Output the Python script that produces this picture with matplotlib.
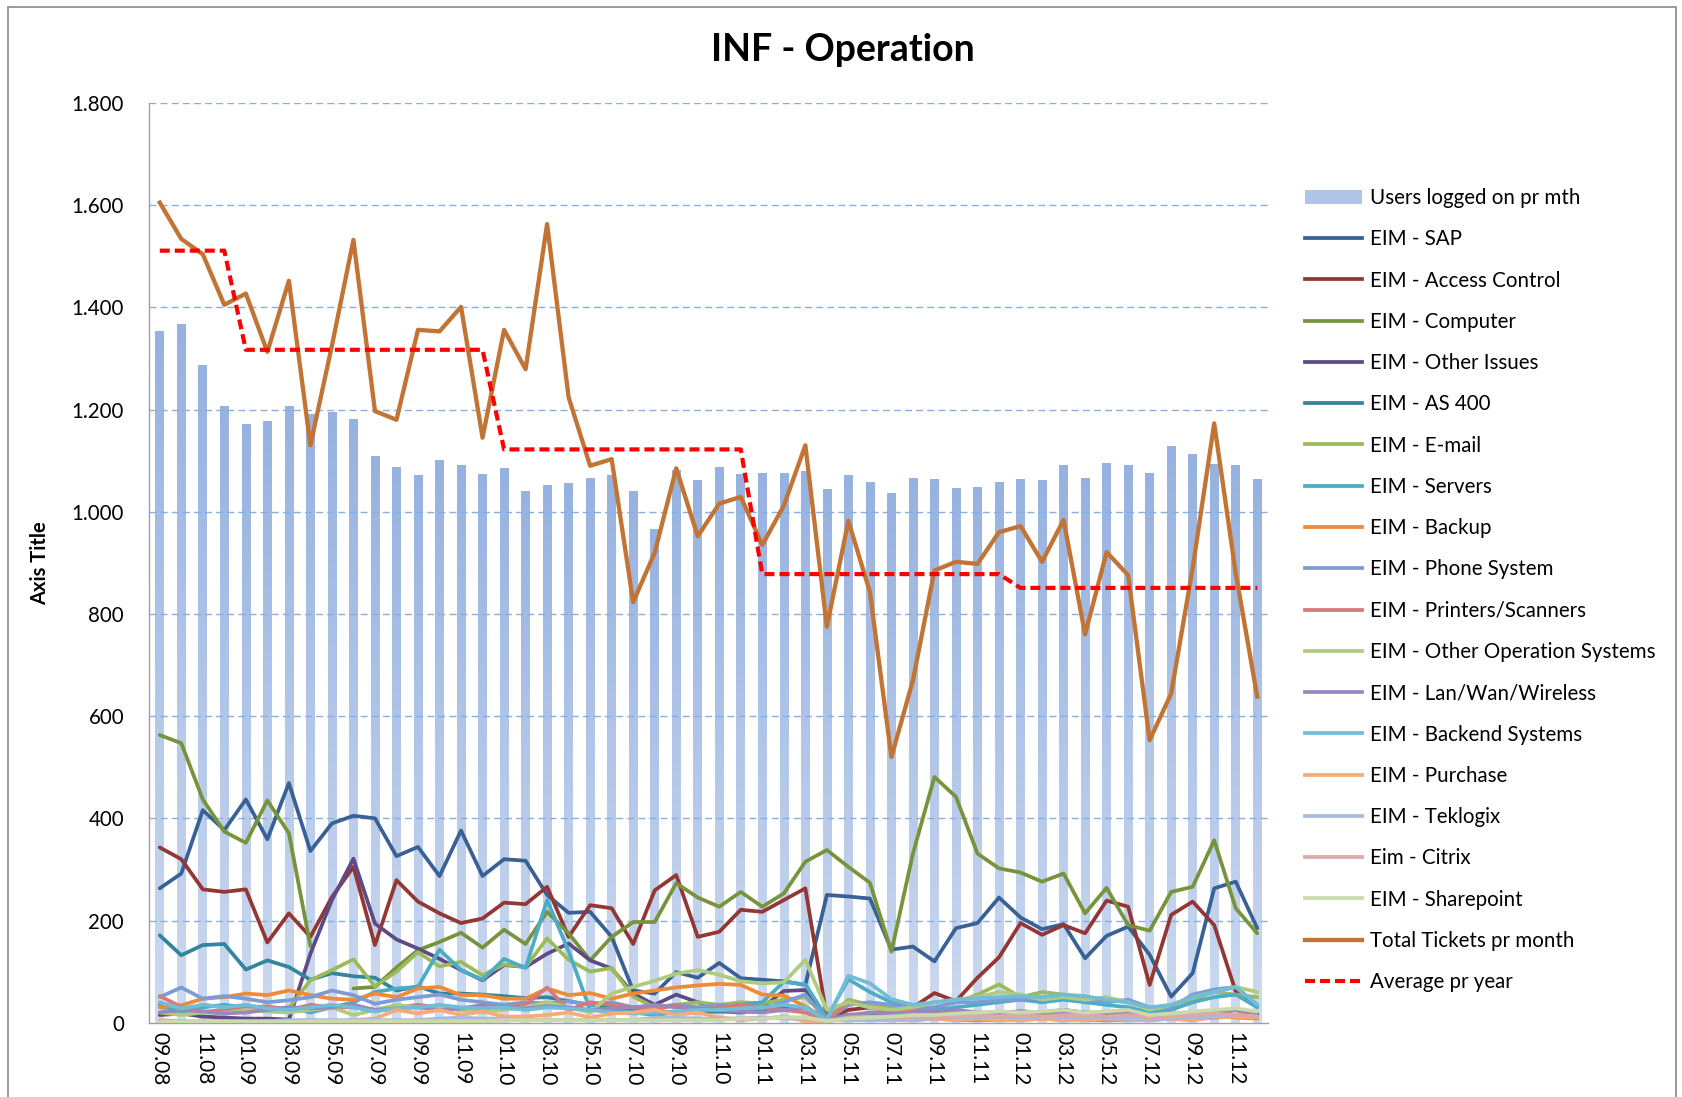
import numpy as np
import matplotlib
matplotlib.use('Agg')
import matplotlib.pyplot as plt
from matplotlib.patches import Patch, Rectangle
from matplotlib.lines import Line2D
from matplotlib.colors import LinearSegmentedColormap

plt.rcParams['font.family'] = ['Lato', 'DejaVu Sans']

nan = float('nan')

months = ["09.08", "10.08", "11.08", "12.08",
          "01.09", "02.09", "03.09", "04.09", "05.09", "06.09", "07.09", "08.09", "09.09", "10.09", "11.09", "12.09",
          "01.10", "02.10", "03.10", "04.10", "05.10", "06.10", "07.10", "08.10", "09.10", "10.10", "11.10", "12.10",
          "01.11", "02.11", "03.11", "04.11", "05.11", "06.11", "07.11", "08.11", "09.11", "10.11", "11.11", "12.11",
          "01.12", "02.12", "03.12", "04.12", "05.12", "06.12", "07.12", "08.12", "09.12", "10.12", "11.12", "12.12"]

users = [1353, 1368, 1287, 1207, 1171, 1178, 1207, 1190, 1194, 1181, 1108, 1087, 1072, 1100, 1091, 1074,
         1085, 1040, 1051, 1055, 1066, 1072, 1040, 965, 1082, 1062, 1087, 1074,
         1076, 1076, 1080, 1044, 1072, 1057, 1037, 1065, 1063, 1046, 1048, 1057,
         1063, 1061, 1091, 1065, 1096, 1091, 1076, 1128, 1113, 1094, 1091, 1063]

total = [1605, 1534, 1504, 1405, 1427, 1313, 1452, 1130, 1325, 1532, 1197, 1180, 1356, 1353, 1401, 1145,
         1356, 1279, 1563, 1224, 1090, 1103, 823, 920, 1085, 952, 1016, 1029,
         935, 1012, 1130, 775, 982, 843, 520, 670, 885, 902, 898, 960,
         972, 902, 984, 760, 921, 876, 553, 644, 890, 1173, 880, 638]

average = [1511, 1511, 1511, 1511,
           1317, 1317, 1317, 1317, 1317, 1317, 1317, 1317, 1317, 1317, 1317, 1317,
           1122, 1122, 1122, 1122, 1122, 1122, 1122, 1122, 1122, 1122, 1122, 1122,
           878, 878, 878, 878, 878, 878, 878, 878, 878, 878, 878, 878,
           851, 851, 851, 851, 851, 851, 851, 851, 851, 851, 851, 851]

sap = [263, 292, 416, 377, 437, 359, 469, 336, 390, 405, 400, 326, 344,
       287, 376, 287, 320, 317, 250, 215, 217, 168, 63, 57, 99, 88,
       117, 87, 84, 81, 74, 250, 247, 243, 143, 149, 120, 185, 195, 245,
       206, 183, 193, 126, 170, 188, 133, 51, 97, 263, 276, 185]

access = [343, 320, 261, 256, 261, 157, 214, 168, 246, 305, 152, 279, 237,
          214, 195, 204, 235, 232, 266, 168, 230, 224, 154, 259, 289, 168,
          178, 221, 217, 240, 263, 10, 25, 30, 25, 30, 58, 42, 88, 128,
          195, 172, 191, 175, 239, 227, 74, 211, 237, 191, 61, 32]

computer = [563, 547, 437, 374, 352, 435, 371, 150, nan, 67, 70, 108, 142,
            158, 176, 147, 182, 154, 217, 175, 122, 168, 197, 197, 273, 245,
            227, 256, 227, 253, 315, 338, 305, 274, 139, 331, 481, 442, 331, 302,
            294, 276, 292, 214, 264, 191, 180, 256, 266, 357, 224, 175]

other_issues = [15, 18, 12, 10, 8, 8, 6, 135, 240, 321, 194, 163, 145,
                125, 103, 83, 113, 109, 135, 155, 122, 106, 57,
                35, 55, 40, 30, 25, 30, 62, 64, 10, 15, 12, 10, 12, 15, 20, 18,
                20, 22, 20, 25, 20, 18, 22, 15, 10, 15, 20, 25, 18]

as400 = [171, 132, 152, 154, 104, 122, 109, 84, 97, 91, 88, 63, 71,
         57, 57, 55, 52, 48, 50, 42, 35, 30, 25, 22, 20, 20,
         22, 20, 25, 28, 30, 8, 15, 15, 12, 10, 12, 15, 15, 18,
         15, 15, 18, 15, 15, 12, 12, 10, 8, 10, 12, 15]

email = [30, 25, 35, 30, 25, 30, 28, 83, 103, 124, 71, 100, 138,
         110, 119, 93, 114, 109, 165, 123, 100, 107, 51, 30, 35, 40,
         35, 40, 38, 45, 50, 10, 45, 35, 30, 25, 30, 40, 55, 75,
         50, 60, 55, 50, 45, 40, 25, 35, 45, 60, 55, 50]

servers = [35, 20, 30, 35, 30, 25, 30, 20, 30, 40, 60, 67, 70,
           143, 103, 84, 125, 107, 240, 140, 25, 25, 20, 15, 20, 25,
           30, 35, 40, 80, 75, 10, 85, 60, 40, 30, 25, 30, 35, 40,
           45, 40, 45, 40, 35, 30, 20, 25, 40, 50, 55, 30]

backup = [31, 34, 47, 50, 57, 54, 63, 54, 47, 45, 57, 50, 67,
          70, 54, 54, 47, 47, 67, 54, 58, 47, 57, 63, 69, 73,
          76, 74, 55, 53, 32, 5, 5, 8, 5, 5, 8, 5, 5, 5,
          5, 8, 5, 5, 5, 5, 5, 8, 5, 15, 10, 8]

phone = [50, 69, 47, 52, 47, 40, 44, 50, 63, 54, 37, 45, 50,
         55, 45, 40, 35, 40, 38, 42, 35, 40, 30, 30, 35, 30,
         35, 30, 28, 40, 55, 5, 35, 40, 35, 30, 30, 40, 40, 45,
         45, 50, 50, 45, 40, 45, 30, 30, 55, 65, 70, 35]

printers = [52, 31, 21, 25, 30, 32, 25, 35, 30, 30, 25, 30, 35,
             30, 25, 30, 30, 35, 69, 25, 40, 35, 30, 25, 35, 25,
             30, 35, 30, 25, 20, 5, 40, 30, 20, 25, 20, 15, 20, 15,
             20, 15, 18, 15, 20, 15, 10, 15, 18, 20, 25, 12]

other_os = [20, 15, 20, 18, 25, 22, 20, 25, 30, 15, 25, 35, 30,
            30, 25, 20, 25, 30, 40, 30, 20, 57, 70, 82, 96, 103,
            94, 81, 77, 79, 123, 25, 40, 30, 25, 30, 40, 45, 50, 60,
            55, 45, 50, 45, 50, 40, 25, 35, 50, 60, 70, 60]

lan = [20, 25, 22, 18, 20, 25, 30, 28, 30, 35, 25, 28, 30,
       25, 28, 35, 30, 28, 32, 30, 25, 28, 30, 35, 30, 28,
       25, 22, 20, 25, 30, 5, 15, 20, 18, 20, 22, 25, 20, 18,
       22, 20, 18, 15, 20, 18, 15, 18, 20, 22, 25, 20]

backend = [40, 28, 35, 30, 35, 28, 25, 30, 35, 30, 22, 28, 30,
           35, 30, 28, 30, 25, 30, 28, 25, 20, 18, 20, 22, 25,
           25, 28, 30, 35, 30, 5, 92, 77, 46, 35, 40, 45, 48, 50,
           52, 50, 55, 52, 45, 40, 30, 35, 50, 60, 70, 35]

purchase = [5, 3, 2, 3, 2, 3, 3, 5, 2, 5, 8, 25, 18,
            25, 15, 22, 12, 12, 15, 20, 10, 18, 20, 25, 15, 20,
            10, 5, 8, 12, 3, 2, 10, 8, 5, 5, 8, 5, 8, 5,
            5, 8, 5, 5, 8, 5, 5, 8, 5, 10, 12, 10]

teklogix = [2, 2, 2, 3, 3, 3, 5, 5, 5, 5, 5, 5, 5,
            8, 10, 8, 8, 5, 5, 5, 5, 5, 5, 10, 10, 8,
            8, 8, 10, 8, 8, 5, 5, 5, 5, 5, 8, 10, 10, 12,
            10, 12, 10, 10, 8, 8, 5, 8, 10, 12, 15, 12]

citrix = [2, 2, 2, 2, 2, 2, 2, 2, 3, 3, 3, 3, 3,
          3, 3, 3, 5, 5, 5, 5, 5, 5, 5, 5, 5, 5,
          8, 8, 8, 10, 10, 3, 10, 12, 10, 12, 10, 12, 15, 12,
          15, 12, 15, 15, 12, 15, 10, 12, 15, 18, 15, 12]

sharepoint = [2, 2, 2, 2, 2, 2, 2, 3, 3, 3, 3, 3, 3,
              3, 3, 3, 5, 5, 5, 5, 5, 5, 5, 5, 5, 5,
              5, 8, 8, 10, 10, 3, 8, 10, 12, 15, 15, 18, 20, 22,
              20, 22, 25, 20, 22, 25, 15, 18, 22, 25, 28, 22]

series = [
    ("EIM - SAP", sap, "#386195"),
    ("EIM - Access Control", access, "#943634"),
    ("EIM - Computer", computer, "#77933C"),
    ("EIM - Other Issues", other_issues, "#5F4A85"),
    ("EIM - AS 400", as400, "#31859C"),
    ("EIM - E-mail", email, "#9BBB59"),
    ("EIM - Servers", servers, "#4BACC6"),
    ("EIM - Backup", backup, "#F08A35"),
    ("EIM - Phone System", phone, "#7E9CD4"),
    ("EIM - Printers/Scanners", printers, "#D57A78"),
    ("EIM - Other Operation Systems", other_os, "#AFCB7E"),
    ("EIM - Lan/Wan/Wireless", lan, "#9A87BC"),
    ("EIM - Backend Systems", backend, "#71BCD6"),
    ("EIM - Purchase", purchase, "#F8AA77"),
    ("EIM - Teklogix", teklogix, "#A7BADF"),
    ("Eim - Citrix", citrix, "#DDA8A7"),
    ("EIM - Sharepoint", sharepoint, "#C9DBAB"),
]

yticks = [0, 200, 400, 600, 800, 1000, 1200, 1400, 1600, 1800]
ytick_labels = ["0", "200", "400", "600", "800", "1.000", "1.200", "1.400", "1.600", "1.800"]

W, H = 1682, 1097
fig = plt.figure(figsize=(W / 100, H / 100), dpi=100)
fig.patch.set_facecolor('white')

left, right, top, bottom = 149, 1268, 103, 1022.7
ax = fig.add_axes([left / W, 1 - bottom / H, (right - left) / W, (bottom - top) / H])

x = np.arange(len(months))
bars = ax.bar(x, users, width=0.4, color='#AFC4E8', linewidth=0, zorder=1)
cmap = LinearSegmentedColormap.from_list('barg', ['#CDDAF0', '#96B2E0'])
grad = np.linspace(0, 1, 256).reshape(-1, 1)
for r in bars:
    x0, w, h = r.get_x(), r.get_width(), r.get_height()
    ax.imshow(grad, extent=[x0, x0 + w, 0, h], origin='lower', cmap=cmap,
              aspect='auto', zorder=1.1, interpolation='bilinear')

for t in yticks[1:]:
    ax.axhline(t, color='#86AEE2', lw=1.0, ls=(0, (5, 3)), zorder=1.5)

LW = 2.7
handles = [Patch(facecolor='#AFC4E8', edgecolor='none', label='Users logged on pr mth')]
for name, vals, col in series:
    ax.plot(x, vals, color=col, lw=LW, zorder=3, solid_joinstyle='round', solid_capstyle='round')
    handles.append(Line2D([], [], color=col, lw=LW, label=name))

ax.plot(x, total, color='#C27434', lw=3.1, zorder=4, solid_joinstyle='round')
handles.append(Line2D([], [], color='#C27434', lw=3.1, label='Total Tickets pr month'))
ax.plot(x, average, color='#FF0000', lw=3.0, zorder=5, ls=(0, (2.4, 1.2)), dash_capstyle='butt')
handles.append(Line2D([], [], color='#FF0000', lw=3.0, ls=(0, (2.4, 1.2)), label='Average pr year'))

ax.set_xlim(-0.5, len(months) - 0.5)
ax.set_ylim(0, 1800)
ax.set_yticks(yticks)
ax.set_yticklabels(ytick_labels, fontsize=14.8)
ax.set_xticks(x[::2])
ax.set_xticklabels(months[::2], rotation=270, fontsize=15)
ax.tick_params(axis='y', length=0, pad=18)
ax.tick_params(axis='x', length=0, pad=7)
for s in ['top', 'right']:
    ax.spines[s].set_visible(False)
for s in ['left', 'bottom']:
    ax.spines[s].set_color('#A0A0A0')
    ax.spines[s].set_linewidth(1.0)
ax.set_facecolor('none')

ax.set_ylabel('Axis Title', fontsize=14.5, fontweight='bold')
ax.yaxis.set_label_coords((50 - left) / (right - left), 0.5)

fig.text(843 / W, 1 - 50 / H, 'INF - Operation', fontsize=27, fontweight='bold',
         ha='center', va='center')

leg = fig.legend(handles=handles, loc='upper left', bbox_to_anchor=(1305 / W, 1 - 188 / H),
                 frameon=False, fontsize=14.8, handlelength=2.75, handletextpad=0.42,
                 labelspacing=1.035, borderpad=0, borderaxespad=0)

fig.add_artist(Rectangle((7.5 / W, -0.01), (1676 - 7.5) / W, 1 - 6.5 / H + 0.01,
                         transform=fig.transFigure, fill=False, ec='#8A8A8A', lw=1.2))

fig.savefig('out.png', dpi=100)
